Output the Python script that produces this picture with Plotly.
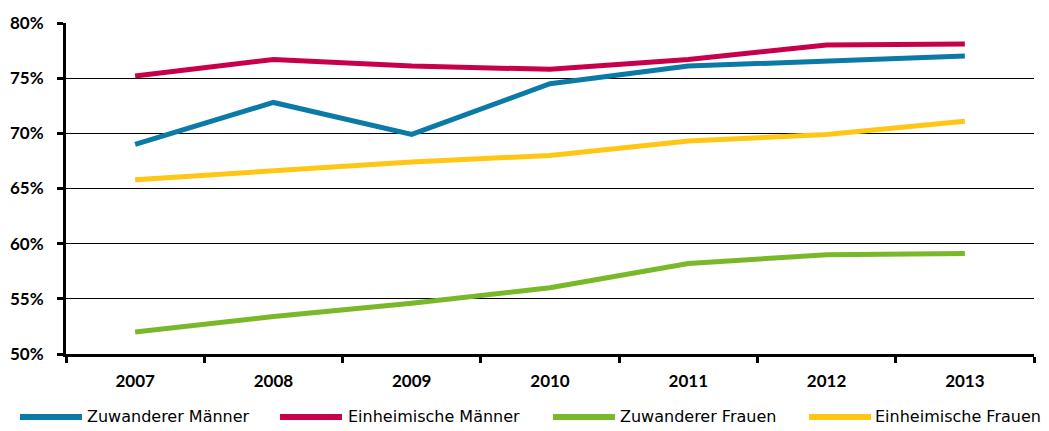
import plotly.graph_objects as go

years = ["2007", "2008", "2009", "2010", "2011", "2012", "2013"]
zuw_maenner = [69.0, 72.8, 69.9, 74.5, 76.1, 76.6, 77.0]
einh_maenner = [75.2, 76.7, 76.1, 75.8, 76.7, 78.0, 78.1]
zuw_frauen = [52.0, 53.4, 54.6, 56.0, 58.2, 59.0, 59.1]
einh_frauen = [65.8, 66.6, 67.4, 68.0, 69.3, 69.9, 71.1]

series_names = ["Zuwanderer Männer", "Einheimische Männer", "Zuwanderer Frauen", "Einheimische Frauen"]
series_values = [zuw_maenner, einh_maenner, zuw_frauen, einh_frauen]
colors = ["#0b7aa6", "#c8004b", "#79b828", "#ffc614"]

y_ticks = [50, 55, 60, 65, 70, 75, 80]
y_tick_text = ["50%", "55%", "60%", "65%", "70%", "75%", "80%"]

fig = go.Figure()
for name, vals, col in zip(series_names, series_values, colors):
    fig.add_trace(go.Scatter(x=years, y=vals, mode="lines", name=name,
                             line=dict(color=col, width=5), showlegend=False))

# custom legend (paper coordinates)
leg_line_start = [-0.0475, 0.2211, 0.5031, 0.7676]
leg_line_end = [0.0165, 0.2851, 0.5671, 0.8316]
leg_text_x = [0.0196, 0.2893, 0.5703, 0.8337]
leg_y = -0.19
for i, (name, col) in enumerate(zip(series_names, colors)):
    fig.add_shape(type="line", xref="paper", yref="paper",
                  x0=leg_line_start[i], x1=leg_line_end[i], y0=leg_y, y1=leg_y,
                  line=dict(color=col, width=6))
    fig.add_annotation(text=name, xref="paper", yref="paper",
                       x=leg_text_x[i], y=leg_y, xanchor="left", yanchor="middle",
                       showarrow=False,
                       font=dict(size=16, color="#000000", family="DejaVu Sans"))

fig.update_layout(
    width=1033, height=423,
    margin=dict(l=58, r=7, t=15, b=77),
    paper_bgcolor="white", plot_bgcolor="white",
    font=dict(family="Lato", color="#000000"),
    xaxis=dict(type="category", tickson="boundaries", ticks="outside", ticklen=6,
               tickwidth=3, tickcolor="black", showline=True, linewidth=3,
               linecolor="black", showgrid=False, automargin=False,
               tickfont=dict(size=17, family="Lato", weight="bold"),
               ticklabelstandoff=10, range=[-0.5, 6.5]),
    yaxis=dict(range=[50, 80], tickvals=y_ticks, ticktext=y_tick_text,
               ticks="outside", ticklen=6, tickwidth=3, tickcolor="black",
               showline=True, linewidth=3, linecolor="black", automargin=False,
               showgrid=True, gridcolor="#000000", gridwidth=1,
               tickfont=dict(size=17, family="Lato", weight="bold"),
               ticklabelstandoff=10, zeroline=False),
)

fig.write_html("out.html")
